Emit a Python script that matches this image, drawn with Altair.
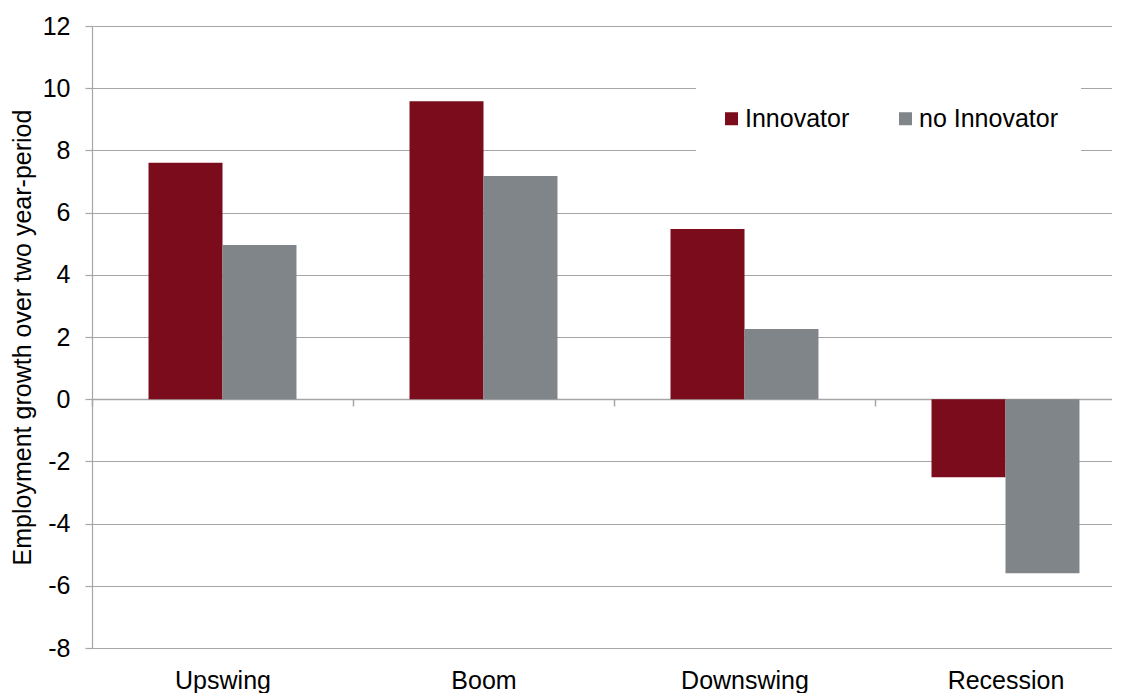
import altair as alt
import pandas as pd

categories = ["Upswing", "Boom", "Downswing", "Recession"]
series = ["Innovator", "no Innovator"]
innovator = [7.60, 9.58, 5.47, -2.51]
no_innovator = [4.96, 7.18, 2.26, -5.60]
colors = ["#7B0C1C", "#7F8588"]
y_ticks = [-8, -6, -4, -2, 0, 2, 4, 6, 8, 10, 12]

rows = []
for c, a, b in zip(categories, innovator, no_innovator):
    rows.append({"phase": c, "group": series[0], "value": a})
    rows.append({"phase": c, "group": series[1], "value": b})
df = pd.DataFrame(rows)

FONT = "Liberation Sans"
GRID = "#A6A6A6"
FS = 25

chart = alt.Chart(df).mark_bar().encode(
    x=alt.X(
        "phase:N",
        sort=categories,
        scale=alt.Scale(paddingInner=0, paddingOuter=0, range=[0, 1044]),
        axis=alt.Axis(
            title=None,
            orient="bottom",
            offset=-249,
            domain=True,
            domainColor=GRID,
            domainWidth=1.5,
            ticks=True,
            tickBand="extent",
            tickColor=GRID,
            tickSize=7,
            tickWidth=1.5,
            labelPadding=262,
            labelFont=FONT,
            labelFontSize=FS,
            labelColor="#000000",
            labelAngle=0,
            grid=False,
        ),
    ),
    xOffset=alt.XOffset(
        "group:N",
        sort=series,
        scale=alt.Scale(paddingInner=0, paddingOuter=0.764),
    ),
    y=alt.Y(
        "value:Q",
        scale=alt.Scale(domain=[-8, 12], nice=False, zero=False),
        axis=alt.Axis(
            title="Employment growth over two year-period",
            values=y_ticks,
            labelExpr="datum.value + ''",
            grid=True,
            gridColor=GRID,
            gridWidth=1.2,
            domain=True,
            domainColor=GRID,
            domainWidth=1.2,
            tickColor=GRID,
            tickSize=7,
            tickWidth=1.2,
            labelPadding=15,
            labelFont=FONT,
            labelFontSize=FS,
            labelColor="#000000",
            titleFont=FONT,
            titleFontSize=FS,
            titleFontWeight="normal",
            titleColor="#000000",
            titlePadding=7,
        ),
    ),
    color=alt.Color(
        "group:N",
        sort=series,
        scale=alt.Scale(domain=series, range=colors),
        legend=alt.Legend(
            title=None,
            orient="none",
            legendX=604,
            legendY=57,
            direction="horizontal",
            fillColor="#FFFFFF",
            padding=23,
            symbolType="square",
            symbolSize=169,
            symbolStrokeWidth=0,
            symbolOpacity=1,
            labelFont=FONT,
            labelFontSize=FS,
            labelColor="#000000",
            labelOffset=1,
            columnPadding=43,
        ),
    ),
).properties(
    width=1020,
    height=622,
    autosize=alt.AutoSizeParams(type="none"),
    padding={"left": 84, "top": 18, "right": 0, "bottom": 45},
).configure_view(stroke=None).configure(background="#FFFFFF")

chart.save("out.html", embed_options={"renderer": "svg", "actions": False})
